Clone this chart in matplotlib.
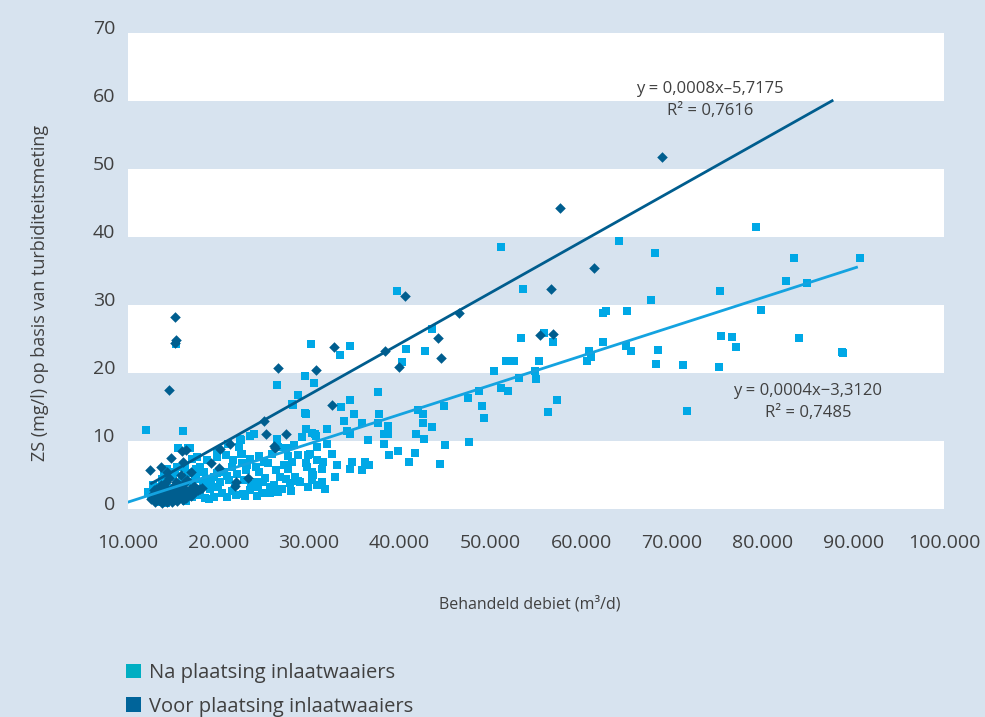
import matplotlib
matplotlib.use("Agg")
import matplotlib.pyplot as plt
import matplotlib.transforms as mtransforms
from matplotlib.patches import Patch
import numpy as np

# ---- data -------------------------------------------------------------
# Na plaatsing inlaatwaaiers: debiet (m3/d), ZS (mg/l)
na_x = [
    51160, 64150, 68150, 79240, 83470, 90740, 39700, 53560, 67670, 75360, 82600, 84850,
    62400, 62770, 65050, 79800, 43570, 53350, 55900, 56950, 62400, 75420, 76680, 84000,
    77030, 68430, 65000, 65530, 60830, 60680, 88730, 88880, 68300, 71210, 75200, 61100,
    51760, 52590, 55350, 50370, 54930, 55000, 53200, 51890, 51130, 48700, 47530, 49050,
    49260, 44890, 42620, 42060, 42540, 43510, 41780, 38740, 36510, 42680, 57350, 56390,
    71620, 47600, 44960, 39840, 41020, 44410, 41650, 38800, 38320, 36660, 36180, 35890,
    34720, 34580, 33130, 32920, 32500, 31950, 30770, 31400, 31460, 31740, 30500, 29870,
    29730, 28760, 27660, 26550, 25710, 24270, 22470, 22680,
    15400, 30260, 34500, 33400, 30560, 29600, 26480, 28760, 28200, 29600, 37560, 34530,
    33480, 34930, 37770, 33870, 35830, 37560, 32020, 29670, 34170, 34530, 30630, 12000,
    16100, 40700, 40300, 42800, 38300, 38700,
    22510, 23500, 23990, 26480, 27730, 24890, 23640, 20940, 19830, 17550, 17130, 15740,
    14980, 12910, 13250, 13950, 16370, 17830, 19070, 20380, 21560, 23500, 24330, 25710,
    27450, 28490, 29800, 30290, 29870, 29040, 27940, 26760, 26410, 27240, 28140, 28830,
    25440, 24200, 24470, 23090, 22110, 21140, 20170, 19200, 18310, 17410, 16710, 17130,
    16710, 15470, 15060, 13810, 12840, 12280, 12570, 14500, 15340, 16030, 19490, 20600,
    21560, 22600, 23500, 24470, 25020, 25930, 26620, 27450, 28350, 29250, 30290, 30910,
    30080, 30910, 31600, 30360, 30910, 22250, 20860, 19830, 18800, 17960, 18450, 17550,
    16890, 15600, 17620, 22400, 21110, 22590, 21660, 23140, 19830, 24240, 28100, 29640,
    18500, 19500, 21000, 22000, 23000, 24800, 26000, 20000, 21800, 22800, 25200, 26200,
    27000, 28000, 13400, 14200, 15000, 16500, 13600, 14700, 16000, 14400, 15200, 16300,
    14000, 17000, 18000, 19000, 17500, 18700,
]
na_y = [
    38.5, 39.4, 37.6, 41.4, 36.9, 36.9, 32.0, 32.4, 30.8, 32.0, 33.5, 33.3,
    28.8, 29.1, 29.1, 29.2, 26.4, 25.1, 25.9, 24.5, 24.5, 25.4, 25.3, 25.1,
    23.8, 23.4, 24.0, 23.3, 23.3, 21.8, 23.1, 22.9, 21.3, 21.2, 20.9, 22.4,
    21.7, 21.7, 21.7, 20.3, 20.25, 19.1, 19.2, 17.3, 17.8, 17.3, 16.3, 15.2,
    13.4, 15.1, 13.95, 14.6, 12.6, 12.1, 11.1, 11.0, 10.1, 10.25, 16.0, 14.2,
    14.45, 9.8, 9.4, 8.5, 6.9, 6.6, 8.3, 7.9, 9.5, 6.5, 6.85, 5.8,
    6.9, 5.9, 6.4, 4.7, 8.15, 9.6, 10.8, 5.9, 3.95, 2.9, 5.0, 7.9,
    6.8, 4.05, 5.95, 2.5, 2.3, 1.9, 8.15, 2.2,
    24.2, 24.2, 23.9, 22.7, 18.6, 19.5, 18.2, 16.7, 15.3, 14.05, 17.2, 16.1,
    15.0, 13.9, 13.95, 13.0, 12.7, 12.7, 11.76, 11.76, 11.47, 11.1, 11.08, 11.6,
    11.5, 23.5, 21.6, 23.3, 11.0, 12.2,
    10.2, 10.8, 11.0, 10.25, 7.8, 3.9, 3.66, 4.9, 5.3, 3.0, 1.8, 1.4,
    1.3, 1.55, 3.3, 3.8, 2.3, 2.05, 2.9, 2.3, 2.6, 2.8, 3.3, 3.3,
    4.35, 4.7, 6.2, 5.45, 3.3, 4.0, 3.76, 4.7, 5.7, 6.4, 6.9, 7.9,
    6.7, 6.2, 5.45, 5.7, 5.1, 4.25, 4.0, 3.66, 3.76, 4.35, 5.3, 7.3,
    8.9, 6.2, 4.7, 4.4, 3.5, 2.5, 2.05, 2.3, 2.7, 3.3, 4.7, 5.45,
    6.2, 6.8, 7.4, 7.8, 6.9, 8.15, 9.1, 8.9, 9.4, 10.6, 11.2, 9.1,
    8.15, 7.2, 6.9, 4.25, 3.5, 9.1, 7.9, 7.65, 7.2, 6.2, 5.45, 4.7,
    9.0, 8.9, 7.65, 10.35, 9.6, 8.15, 7.2, 6.4, 8.4, 4.0, 15.5, 14.0,
    1.6, 1.8, 1.7, 2.0, 1.9, 2.4, 2.9, 3.2, 3.5, 4.3, 4.6, 3.6,
    3.0, 2.6, 1.0, 0.9, 2.0, 1.2, 2.6, 3.1, 4.5, 5.9, 5.5, 6.0,
    5.0, 3.9, 2.6, 1.5, 5.9, 4.2,
]

# Voor plaatsing inlaatwaaiers: debiet (m3/d), ZS (mg/l)
voor_x = [
    68920, 57700, 61370, 56670, 40590, 46490, 15190, 15330, 15190, 14570, 55490, 56950,
    44270, 44550, 38380, 39980, 32710, 30780, 26620, 32500, 25020, 25300, 27450, 26140,
    26260, 20250, 21350, 19210, 20040, 12480, 13670, 14780, 16030, 16450, 16160, 14300,
    21980, 23290, 21850, 17000,
    12600, 12800, 13000, 13200, 13300, 13500, 13600, 13800, 13900, 14000, 14100, 14300,
    14400, 14500, 14700, 14800, 14900, 15000, 15100, 15200, 15300, 15500, 15600, 15700,
    15800, 16000, 16100, 16200, 16400, 16500, 16700, 16900, 17000, 17200, 17500, 17800,
    18000, 18200, 15400, 14200, 16600, 13700, 17300, 14600, 15900, 16300, 13100, 12900,
]
voor_y = [
    51.8, 44.3, 35.4, 32.3, 31.3, 28.8, 28.2, 24.85, 24.35, 17.5, 25.6, 25.7,
    25.1, 22.15, 23.3, 20.9, 23.8, 20.45, 20.75, 15.3, 12.9, 11.0, 11.0, 9.3,
    9.0, 8.8, 9.5, 6.7, 6.05, 5.7, 6.2, 7.5, 8.6, 8.7, 6.9, 5.4,
    3.9, 4.6, 3.4, 5.4,
    1.5, 2.2, 1.0, 1.8, 2.6, 1.3, 2.0, 0.9, 2.8, 1.6, 2.3, 1.1,
    3.0, 1.9, 1.4, 2.5, 1.0, 3.3, 2.0, 1.5, 2.8, 1.2, 2.2, 3.6,
    1.7, 2.6, 1.3, 3.1, 2.0, 1.6, 2.4, 2.9, 1.9, 2.3, 2.6, 2.8,
    3.0, 3.1, 4.0, 3.9, 4.3, 3.5, 3.4, 4.6, 5.0, 4.0, 3.0, 2.8,
]

# linear trend lines: slope, intercept, x-range
voor_fit = (0.00075, -5.7175)
voor_fit_range = (12500, 87800)
na_fit = (0.00043, -3.3120)
na_fit_range = (10000, 90500)

voor_eq = ["y = 0,0008x\u20135,7175", "R\u00b2 = 0,7616"]
na_eq = ["y = 0,0004x\u22123,3120", "R\u00b2 = 0,7485"]

x_ticks = [10000, 20000, 30000, 40000, 50000, 60000, 70000, 80000, 90000, 100000]
x_tick_labels = ["10.000", "20.000", "30.000", "40.000", "50.000",
                 "60.000", "70.000", "80.000", "90.000", "100.000"]
y_ticks = [0, 10, 20, 30, 40, 50, 60, 70]

series_labels = ["Na plaatsing inlaatwaaiers", "Voor plaatsing inlaatwaaiers"]

# ---- style ------------------------------------------------------------
BG = "#d7e3ef"
TXT = "#404040"
NA_COL = "#00a8e6"
NA_LINE = "#14a3e0"
VOOR_COL = "#005e8f"
VOOR_LINE = "#005d8e"
NA_LEG = "#00aec2"
VOOR_LEG = "#00649a"

plt.rcParams["font.family"] = ["Open Sans", "DejaVu Sans"]

W, H = 985, 717
fig = plt.figure(figsize=(W / 100, H / 100), dpi=100, facecolor=BG)
ax = fig.add_axes([127.5 / W, 1 - 509 / H, (944 - 127.5) / W, (509 - 33) / H])
ax.set_facecolor(BG)

ax.set_xlim(10000, 100000)
ax.set_ylim(0, 70)

# alternating white bands
for lo in (0, 20, 40, 60):
    ax.axhspan(lo, lo + 10, color="white", lw=0, zorder=0)

ax.scatter(na_x, na_y, marker="s", s=33, color=NA_COL, linewidths=0, zorder=2)
ax.scatter(voor_x, voor_y, marker="D", s=29, color=VOOR_COL, linewidths=0, zorder=3)

for (a, b), (x0, x1), col in ((voor_fit, voor_fit_range, VOOR_LINE),
                              (na_fit, na_fit_range, NA_LINE)):
    xs = np.array([x0, x1], dtype=float)
    ax.plot(xs, a * xs + b, color=col, lw=2, zorder=4, solid_capstyle="butt")

for s in ax.spines.values():
    s.set_visible(False)
ax.tick_params(length=0, labelsize=14, labelcolor=TXT)
ax.set_xticks(x_ticks)
ax.set_xticklabels(x_tick_labels)
ax.set_yticks(y_ticks)
ax.tick_params(axis="x", pad=18)
ax.tick_params(axis="y", pad=9)
shift = mtransforms.ScaledTranslation(0, 6 / 100, fig.dpi_scale_trans)
for lab in ax.get_yticklabels():
    lab.set_transform(lab.get_transform() + shift)

# equations
fig.text(710 / W, 1 - 89 / H, voor_eq[0], ha="center", va="center", fontsize=12, color=TXT)
fig.text(710 / W, 1 - 111 / H, voor_eq[1], ha="center", va="center", fontsize=12, color=TXT)
fig.text(808 / W, 1 - 391 / H, na_eq[0], ha="center", va="center", fontsize=12, color=TXT)
fig.text(808 / W, 1 - 413 / H, na_eq[1], ha="center", va="center", fontsize=12, color=TXT)

# axis titles
fig.text(40 / W, 1 - 293 / H, "ZS (mg/l) op basis van turbiditeitsmeting",
         rotation=90, ha="center", va="center", fontsize=13, color=TXT)
fig.text(530 / W, 1 - 604 / H, "Behandeld debiet (m\u00b3/d)",
         ha="center", va="center", fontsize=11.5, color=TXT)

handles = [Patch(facecolor=NA_LEG, edgecolor="none"),
           Patch(facecolor=VOOR_LEG, edgecolor="none")]
fig.legend(handles, series_labels, loc="upper left",
           bbox_to_anchor=(126 / W, 1 - 663 / H), frameon=False,
           fontsize=14.5, labelcolor=TXT, handlelength=0.75, handleheight=0.75,
           handletextpad=0.4, labelspacing=0.68, borderpad=0, borderaxespad=0)

fig.savefig("out.png", dpi=100, facecolor=BG)
